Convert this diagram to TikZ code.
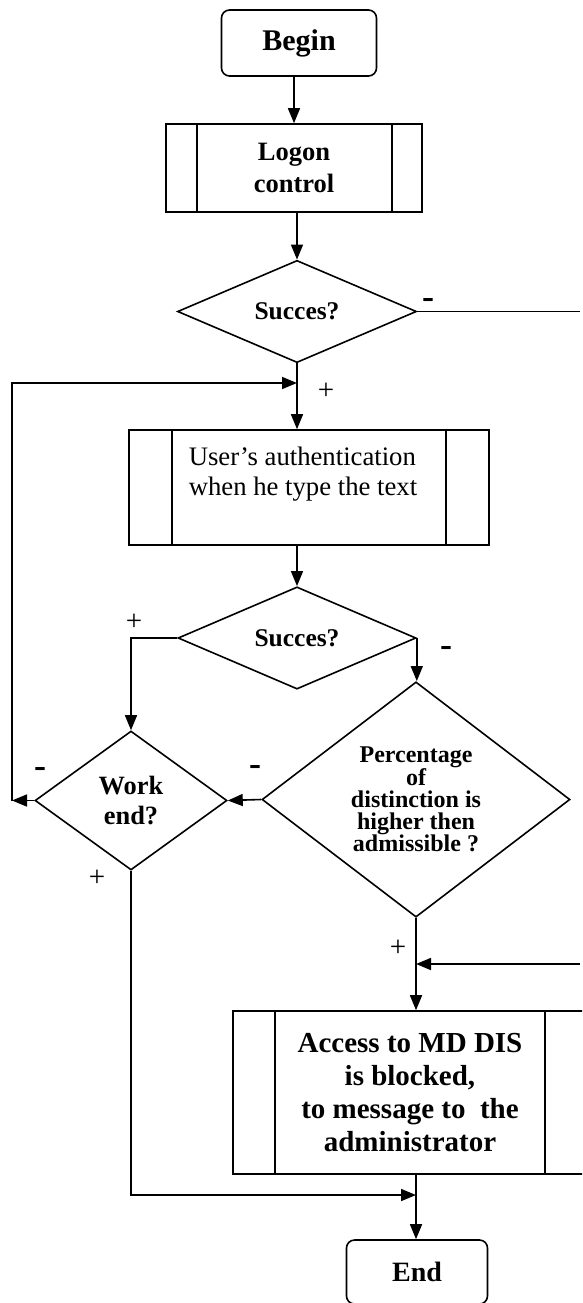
\documentclass[tikz,border=0pt]{standalone}
\usepackage{fontspec}
\setmainfont{Liberation Serif}
\usetikzlibrary{shapes.geometric,arrows.meta}
\begin{document}
\begin{tikzpicture}[x=1pt,y=-1pt,
  line width=1.6pt,
  arr/.style={-{Triangle[length=15pt,width=12pt]}},
  term/.style={draw, rounded corners=8pt, inner sep=0pt},
  proc/.style={draw, inner sep=0pt},
  dec/.style={draw, diamond, inner sep=0pt, align=center},
  plus/.style={font=\fontsize{29}{29}\selectfont, inner sep=0pt},
  minus/.style={font=\fontsize{36}{36}\selectfont\bfseries, inner sep=0pt}]
\useasboundingbox (0,0) rectangle (582,1303);
\clip (0,0) rectangle (582,1303);

% terminals and processes
\node[term, minimum width=155pt, minimum height=66pt, font=\fontsize{30}{34}\selectfont\bfseries] (begin) at (299,43) {Begin};
\node[proc, minimum width=256pt, minimum height=88pt, align=center, font=\fontsize{26.5}{32}\selectfont\bfseries] (logon) at (294,168) {Logon\\control};
\draw ([xshift=32pt]logon.north west) -- ([xshift=32pt]logon.south west);
\draw ([xshift=-31pt]logon.north east) -- ([xshift=-31pt]logon.south east);

\node[dec, minimum width=239pt, minimum height=93pt, font=\fontsize{25.5}{28}\selectfont\bfseries] (d1) at (297,311.5) {Succes?};

\node[proc, minimum width=360pt, minimum height=115pt] (user) at (309,487.5) {};
\draw ([xshift=44pt]user.north west) -- ([xshift=44pt]user.south west);
\draw ([xshift=-44pt]user.north east) -- ([xshift=-44pt]user.south east);
\node[anchor=west, align=left, inner sep=0pt, font=\fontsize{26.7}{30}\selectfont] (usertext) at (188,474) {User’s authentication\\when he type the text};

\node[dec, minimum width=238pt, minimum height=92pt, font=\fontsize{25.5}{28}\selectfont\bfseries] (d2) at (297,638) {Succes?};

\node[dec, minimum width=192pt, minimum height=139pt, font=\fontsize{26.4}{30}\selectfont\bfseries] (we) at (131,800.5) {Work\\end?};

\node[dec, minimum width=308pt, minimum height=233pt, font=\fontsize{24}{22}\selectfont\bfseries] (pct) at (416,799.5) {Percentage\\of\\distinction is\\higher then\\admissible ?};

\node[proc, minimum width=354pt, minimum height=163pt, align=center, font=\fontsize{29}{33}\selectfont\bfseries] (access) at (410,1092.5) {Access to MD DIS\\is blocked,\\to message to~ the\\administrator};
\draw ([xshift=43pt]access.north west) -- ([xshift=43pt]access.south west);
\draw ([xshift=-43pt]access.north east) -- ([xshift=-43pt]access.south east);

\node[term, minimum width=141pt, minimum height=64pt, font=\fontsize{28}{32}\selectfont\bfseries] (end) at (417,1272) {End};

% coordinates
\coordinate (rout) at (580,311.5);
\coordinate (join) at (297,383);
\coordinate (loopT) at (12,383);
\coordinate (loopB) at (12,800.5);
\coordinate (rin) at (580,964);
\coordinate (mergeE) at (416,1195);

% connectors
\draw[arr] (begin.south -| logon.north) -- (logon.north);
\draw[arr] (logon.south -| d1.north) -- (d1.north);
\draw (d1.east) -- (rout);
\draw[arr] (d1.south) -- (d1.south |- user.north);
\draw[arr] (loopB) -- (loopT) -- (join);
\draw[arr] (user.south -| d2.north) -- (d2.north);
\draw[arr] (d2.west) -| (we.north);
\draw[arr] (d2.east) -- (d2.east |- pct.north);
\draw[arr] (pct.west) -- (we.east);
\draw[arr] (we.west) -- (loopB);
\draw[arr] (pct.south) -- (pct.south |- access.north);
\draw[arr] (rin) -- (rin -| pct.south);
\draw[arr] (pct.south |- access.south) -- (pct.south |- end.north);
\draw[arr] (we.south) |- (mergeE);

% labels
\node[minus] (m1) at (428,303) {-};
\node[plus] (p1) at (326,391) {+};
\node[plus] (p2) at (134,622) {+};
\node[minus] (m2) at (446,651) {-};
\node[minus] (m3) at (40,772) {-};
\node[minus] (m4) at (255,770) {-};
\node[plus] (p3) at (97,878) {+};
\node[plus] (p4) at (398,948) {+};
\end{tikzpicture}
\end{document}
